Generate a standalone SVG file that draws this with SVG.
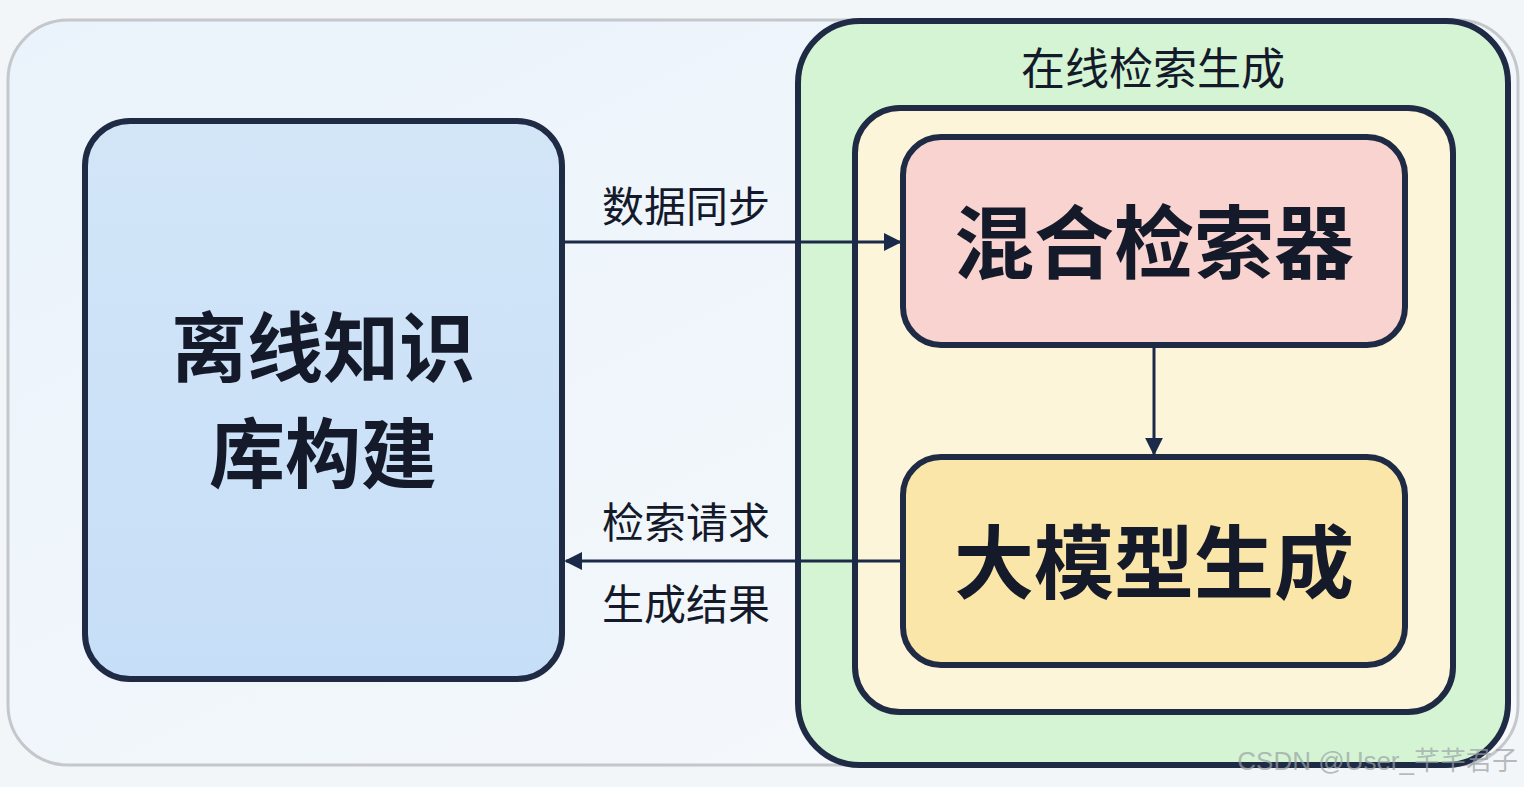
<svg xmlns="http://www.w3.org/2000/svg" width="1524" height="787" viewBox="0 0 1524 787">
<defs>
<linearGradient id="bg" x1="0" y1="0" x2="1" y2="1"><stop offset="0" stop-color="#eaf3fb"/><stop offset="1" stop-color="#f7f9fb"/></linearGradient>
<linearGradient id="lb" x1="0" y1="0" x2="0" y2="1"><stop offset="0" stop-color="#d3e6f8"/><stop offset="1" stop-color="#c6def7"/></linearGradient>
<marker id="ah" viewBox="0 0 10 10" refX="9" refY="5" markerWidth="6" markerHeight="6" orient="auto"><path d="M0,0 L10,5 L0,10 z" fill="#1c2a4a"/></marker>
</defs>
<style>
.box{stroke:#1f2b45;stroke-width:6}
.t{font-family:"Noto Sans CJK SC","Noto Sans",sans-serif;fill:#141a2a;text-anchor:middle}
.c{stroke:#1c2a4a;stroke-width:3;fill:none;marker-end:url(#ah)}
</style>
<rect x="0" y="0" width="1524" height="787" fill="#f3f6f9"/>
<rect x="8" y="20" width="1510" height="745" rx="60" fill="url(#bg)" stroke="#c4c8cc" stroke-width="3"/>
<g id="offline"><rect class="box" x="85" y="121" width="477" height="558" rx="45" fill="url(#lb)"/>
<text class="t" x="323" y="376" font-size="76" font-weight="bold">离线知识</text>
<text class="t" x="323" y="482" font-size="76" font-weight="bold">库构建</text></g>
<g id="online"><rect class="box" x="798" y="21" width="710" height="744" rx="62" fill="#d4f4d3"/>
<text class="t" x="1153" y="85" font-size="44">在线检索生成</text>
<rect class="box" x="855" y="108" width="598" height="604" rx="45" fill="#fcf5d9"/></g>
<g id="retriever"><rect class="box" x="903" y="137" width="502" height="208" rx="38" fill="#f9d3cf"/>
<text class="t" x="1154" y="272" font-size="80" font-weight="bold">混合检索器</text></g>
<g id="llm"><rect class="box" x="903" y="457" width="502" height="208" rx="38" fill="#fbe6a9"/>
<text class="t" x="1154" y="592" font-size="80" font-weight="bold">大模型生成</text></g>
<g id="connectors">
<line class="c" x1="564" y1="242" x2="900" y2="242"/>
<line class="c" x1="1154" y1="347" x2="1154" y2="454"/>
<line class="c" x1="902" y1="561" x2="566" y2="561"/>
<text class="t" x="686" y="222" font-size="42">数据同步</text>
<text class="t" x="686" y="538" font-size="42">检索请求</text>
<text class="t" x="686" y="620" font-size="42">生成结果</text>
</g>
<text x="1518" y="770" font-family="'Liberation Sans','Noto Sans CJK SC',sans-serif" font-size="26" fill="#9aa0a6" fill-opacity="0.7" text-anchor="end">CSDN @User_芊芊君子</text>
</svg>
